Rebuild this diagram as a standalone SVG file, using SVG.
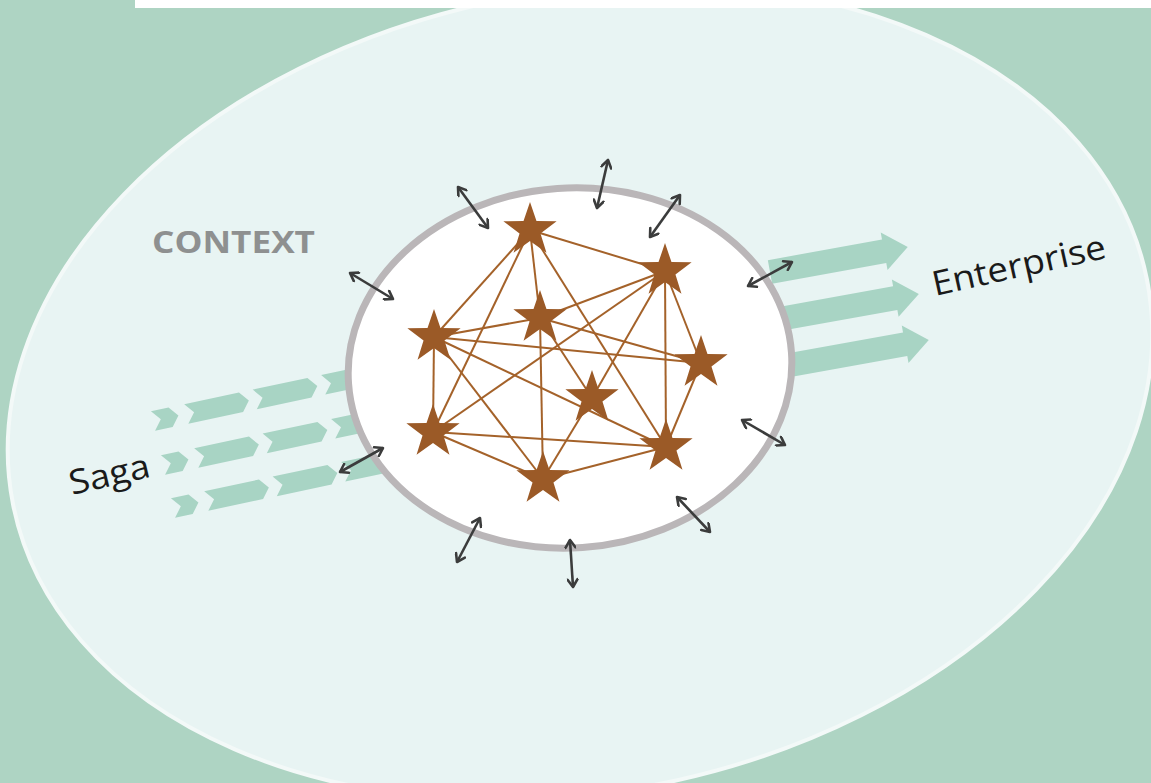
<svg xmlns="http://www.w3.org/2000/svg" xmlns:xlink="http://www.w3.org/1999/xlink" width="1151" height="783" viewBox="0 0 1151 783">
<defs>
<style>
.star{fill:#9b5a27}
.link{stroke:#a4622a;stroke-width:2;fill:none}
.dbl{stroke:#3b3c3c;stroke-width:2.6;fill:none;marker-start:url(#ah);marker-end:url(#ah)}
.flow{fill:#a8d4c4}
.lbl{font-family:"Open Sans","Liberation Sans",sans-serif;fill:#1a1a1a;font-size:34px}
</style>
<marker id="ah" viewBox="0 0 12 12" refX="10" refY="6" markerWidth="12" markerHeight="12" markerUnits="userSpaceOnUse" orient="auto-start-reverse">
<path d="M2.5,1 L10,6 L2.5,11" fill="none" stroke="#3b3c3c" stroke-width="2.6" stroke-linecap="round" stroke-linejoin="round"/>
</marker>
<polygon id="star" points="0,-28 6.47,-8.9 26.63,-8.65 10.46,3.4 16.46,22.65 0,11 -16.46,22.65 -10.46,3.4 -26.63,-8.65 -6.47,-8.9"/>
<polygon id="segS" points="0,-10 18,-10 26,0 18,10 0,10 8,0"/>
<polygon id="segL" points="0,-10 56,-10 64,0 56,10 0,10 8,0"/>
</defs>
<rect width="1151" height="783" fill="#aed4c3"/>
<g id="context-area">
<ellipse cx="580" cy="392" rx="578" ry="400" transform="rotate(-11.25 580 392)" fill="#e8f4f3" stroke="#f3f9f8" stroke-width="4"/>
<text x="152" y="253" font-family="'Open Sans','Liberation Sans',sans-serif" font-weight="bold" font-size="30" fill="#8e9090" textLength="163" lengthAdjust="spacingAndGlyphs">CONTEXT</text>
</g>
<rect x="135" y="0" width="1016" height="8" fill="#ffffff"/>
<g id="saga-flow" class="flow">
<g transform="translate(153,421) rotate(-12)">
<use xlink:href="#segS"/><use xlink:href="#segL" x="34"/><use xlink:href="#segL" x="104"/><use xlink:href="#segL" x="174"/>
</g>
<g transform="translate(163,465) rotate(-12)">
<use xlink:href="#segS"/><use xlink:href="#segL" x="34"/><use xlink:href="#segL" x="104"/><use xlink:href="#segL" x="174"/>
</g>
<g transform="translate(173,508) rotate(-12)">
<use xlink:href="#segS"/><use xlink:href="#segL" x="34"/><use xlink:href="#segL" x="104"/><use xlink:href="#segL" x="174"/>
</g>
</g>
<g id="enterprise-flow" class="flow">
<polygon transform="translate(770,272) rotate(-10.3)" points="0,-12 116,-12 116,-19 140,0 116,19 116,12 0,12"/>
<polygon transform="translate(785,318) rotate(-10.2)" points="0,-12 112,-12 112,-19 136,0 112,19 112,12 0,12"/>
<polygon transform="translate(790,365) rotate(-10.2)" points="0,-12 117,-12 117,-19 141,0 117,19 117,12 0,12"/>
</g>
<g id="core">
<ellipse cx="570" cy="368" rx="222" ry="180" transform="rotate(-4 570 368)" fill="#ffffff" stroke="#bab6b8" stroke-width="7"/>
</g>
<g id="connectors">
<line class="link" x1="530" y1="230" x2="665" y2="271"/>
<line class="link" x1="530" y1="230" x2="434" y2="337"/>
<line class="link" x1="530" y1="230" x2="433" y2="432"/>
<line class="link" x1="530" y1="230" x2="540" y2="318"/>
<line class="link" x1="530" y1="230" x2="666" y2="447"/>
<line class="link" x1="665" y1="271" x2="540" y2="318"/>
<line class="link" x1="665" y1="271" x2="433" y2="432"/>
<line class="link" x1="665" y1="271" x2="592" y2="398"/>
<line class="link" x1="665" y1="271" x2="666" y2="447"/>
<line class="link" x1="665" y1="271" x2="701" y2="363"/>
<line class="link" x1="540" y1="318" x2="434" y2="337"/>
<line class="link" x1="540" y1="318" x2="701" y2="363"/>
<line class="link" x1="540" y1="318" x2="592" y2="398"/>
<line class="link" x1="540" y1="318" x2="543" y2="479"/>
<line class="link" x1="434" y1="337" x2="701" y2="363"/>
<line class="link" x1="434" y1="337" x2="433" y2="432"/>
<line class="link" x1="434" y1="337" x2="543" y2="479"/>
<line class="link" x1="434" y1="337" x2="666" y2="447"/>
<line class="link" x1="701" y1="363" x2="666" y2="447"/>
<line class="link" x1="592" y1="398" x2="543" y2="479"/>
<line class="link" x1="433" y1="432" x2="666" y2="447"/>
<line class="link" x1="433" y1="432" x2="543" y2="479"/>
<line class="link" x1="543" y1="479" x2="666" y2="447"/>
<line class="dbl" x1="458" y1="187" x2="488" y2="228"/>
<line class="dbl" x1="608" y1="160" x2="597" y2="208"/>
<line class="dbl" x1="680" y1="195" x2="650" y2="237"/>
<line class="dbl" x1="350" y1="273" x2="393" y2="299"/>
<line class="dbl" x1="792" y1="262" x2="748" y2="286"/>
<line class="dbl" x1="742" y1="420" x2="785" y2="445"/>
<line class="dbl" x1="383" y1="448" x2="340" y2="472"/>
<line class="dbl" x1="677" y1="497" x2="710" y2="532"/>
<line class="dbl" x1="480" y1="518" x2="457" y2="562"/>
<line class="dbl" x1="570" y1="540" x2="573" y2="587"/>
</g>
<g id="star1"><use xlink:href="#star" class="star" x="530" y="230"/></g>
<g id="star2"><use xlink:href="#star" class="star" x="665" y="271"/></g>
<g id="star3"><use xlink:href="#star" class="star" x="540" y="318"/></g>
<g id="star4"><use xlink:href="#star" class="star" x="434" y="337"/></g>
<g id="star5"><use xlink:href="#star" class="star" x="701" y="363"/></g>
<g id="star6"><use xlink:href="#star" class="star" x="592" y="398"/></g>
<g id="star7"><use xlink:href="#star" class="star" x="433" y="432"/></g>
<g id="star8"><use xlink:href="#star" class="star" x="666" y="447"/></g>
<g id="star9"><use xlink:href="#star" class="star" x="543" y="479"/></g>
<g id="saga-label"><text class="lbl" transform="translate(72,495) rotate(-13)" textLength="82" lengthAdjust="spacingAndGlyphs">Saga</text></g>
<g id="enterprise-label"><text class="lbl" transform="translate(935,296) rotate(-12.5)" textLength="177" lengthAdjust="spacingAndGlyphs">Enterprise</text></g>
</svg>
